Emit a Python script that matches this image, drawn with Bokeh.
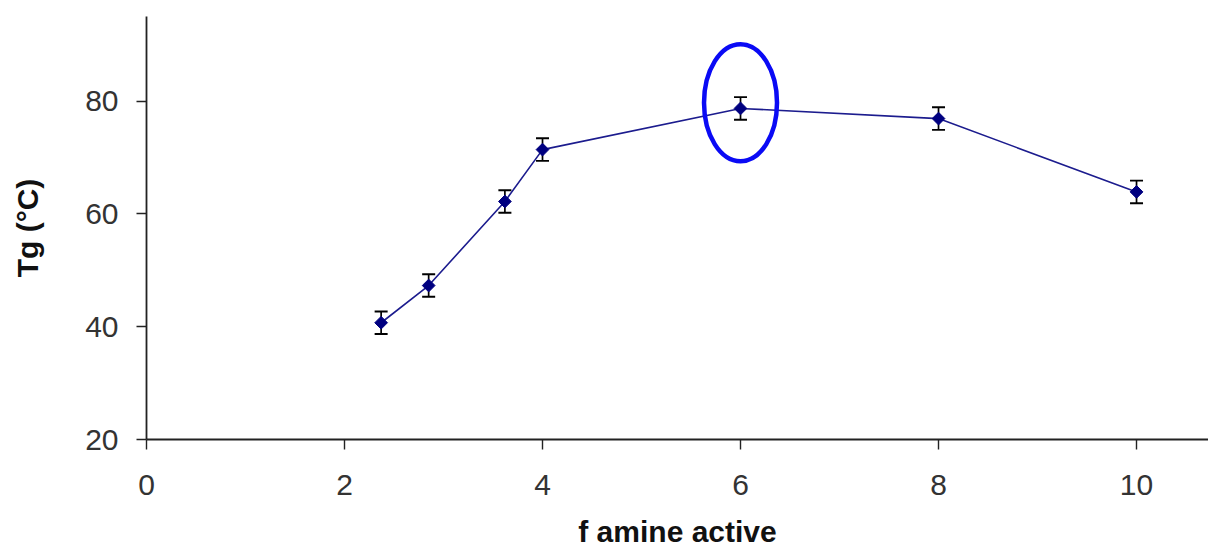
import math
from bokeh.plotting import figure
from bokeh.models import ColumnDataSource, Whisker, Range1d, FixedTicker, TeeHead
from bokeh.embed import file_html
from bokeh.resources import INLINE

# data
f_amine = [2.37, 2.85, 3.62, 4.0, 6.0, 8.0, 10.0]
tg = [40.7, 47.3, 62.2, 71.4, 78.7, 76.9, 63.9]
tg_err = [2.0, 2.0, 2.0, 2.0, 2.0, 2.0, 2.0]
x_ticks = [0, 2, 4, 6, 8, 10]
y_ticks = [20, 40, 60, 80]
highlight_x = [6.0]
highlight_y = [79.7]

src = ColumnDataSource(dict(
    x=f_amine, y=tg,
    lo=[v - e for v, e in zip(tg, tg_err)],
    hi=[v + e for v, e in zip(tg, tg_err)],
))

W, H = 1208, 551
p = figure(width=W, height=H, output_backend="svg", toolbar_location=None,
           x_range=Range1d(0, 10.727), y_range=Range1d(20, 95),
           min_border_left=146, min_border_right=0, min_border_top=16,
           min_border_bottom=112)
p.outline_line_color = None
p.grid.visible = False
p.background_fill_color = "white"
p.border_fill_color = "white"

FONT = "Liberation Sans"
for ax in (p.xaxis[0], p.yaxis[0]):
    ax.axis_line_color = "#222222"
    ax.axis_line_width = 1.8
    ax.major_tick_line_color = "#222222"
    ax.major_tick_line_width = 1.4
    ax.major_tick_out = 10
    ax.major_tick_in = 0
    ax.minor_tick_line_color = None
    ax.major_label_text_font = FONT
    ax.major_label_text_font_size = "30px"
    ax.major_label_text_color = "#333333"
    ax.axis_label_text_font = FONT
    ax.axis_label_text_font_size = "30px"
    ax.axis_label_text_font_style = "bold"
    ax.axis_label_text_color = "#111111"

p.xaxis[0].ticker = FixedTicker(ticks=x_ticks)
p.yaxis[0].ticker = FixedTicker(ticks=y_ticks)
p.xaxis[0].major_label_standoff = 25
p.yaxis[0].major_label_standoff = 18
p.xaxis[0].axis_label = "f amine active"
p.xaxis[0].axis_label_standoff = 17
p.yaxis[0].axis_label = "Tg (°C)"
p.yaxis[0].axis_label_standoff = 38

p.line("x", "y", source=src, line_color="#1c1c8e", line_width=1.6)
w = Whisker(base="x", lower="lo", upper="hi", source=src,
            line_color="black", line_width=1.7)
w.upper_head = TeeHead(size=13, line_color="black", line_width=1.9)
w.lower_head = TeeHead(size=13, line_color="black", line_width=1.9)
p.add_layout(w)
p.scatter("x", "y", source=src, marker="square", angle=math.pi / 4, size=9,
          fill_color="#000080", line_color="#000080")

p.ellipse(x=highlight_x, y=highlight_y, width=73, height=117,
          width_units="screen", height_units="screen",
          fill_color=None, line_color="#0a0af5", line_width=4.5)

open("out.html", "w").write(file_html(p, INLINE))
